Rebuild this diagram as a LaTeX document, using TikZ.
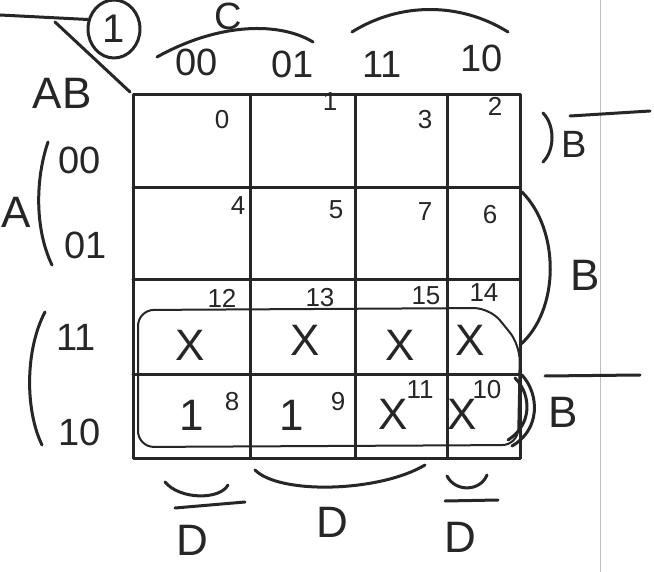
\documentclass[tikz,border=0pt]{standalone}
\usepackage{fontspec}
\setmainfont{Liberation Sans}
\usetikzlibrary{shapes.geometric}
\begin{document}
\begin{tikzpicture}[x=1pt,y=-1pt,
  pen/.style={line width=3pt,line cap=round,line join=round,black!85},
  thin pen/.style={line width=2pt,line cap=round,black!85},
  big/.style={font=\fontsize{44}{46}\selectfont,text=black!85,inner sep=0pt},
  mid/.style={font=\fontsize{38}{40}\selectfont,text=black!85,inner sep=0pt},
  small/.style={font=\fontsize{26}{28}\selectfont,text=black!85,inner sep=0pt}]
\useasboundingbox (0,0) rectangle (654,572);
\fill[white] (0,0) rectangle (654,572);
% notebook margin line
\draw[black!25,line width=0.8pt] (600,0) -- (600,572);
% grid
\draw[pen] (133,95) rectangle (520,458);
\foreach \x in {250,355,447} \draw[pen] (\x,95) -- (\x,458);
\foreach \y in {188,280,375} \draw[pen] (133,\y) -- (520,\y);
% corner diagonal and AB
\coordinate (dg1) at (55,22);
\coordinate (dg2) at (130,92);
\draw[pen] (dg1) -- (dg2);
\node[big] (ab) at (62,93) {AB};
\node[draw,pen,ellipse,minimum width=52pt,minimum height=58pt,inner sep=0pt,font=\fontsize{40}{42}\selectfont] (one) at (114,29) {1};
\coordinate (l0) at (0,15);
\draw[pen] (l0) -- (one.160);
% column labels
\node[mid] (c00) at (197,62) {00};
\node[mid] (c01) at (293,64) {01};
\node[mid] (c11) at (382,64) {11};
\node[mid] (c10) at (482,58) {10};
\draw[pen] (157,57) .. controls (220,22) and (280,22) .. (313,42);
\draw[pen] (352,32) .. controls (400,2) and (460,2) .. (508,32);
\node[mid] (cC) at (228,16) {C};
% row labels
\node[mid] (r00) at (80,160) {00};
\node[mid] (r01) at (86,245) {01};
\node[mid] (r11) at (76,337) {11};
\node[mid] (r10) at (80,432) {10};
\draw[pen] (48,142) .. controls (35,180) and (35,230) .. (52,265);
\node[big] (rA) at (16,212) {A};
\draw[pen] (45,312) .. controls (25,350) and (25,410) .. (42,445);
% cell numbers
\node[small] (n0) at (222,120) {0};
\node[small] (n1) at (330,102) {1};
\node[small] (n3) at (425,120) {3};
\node[small] (n2) at (495,106) {2};
\node[small] (n4) at (238,206) {4};
\node[small] (n5) at (336,210) {5};
\node[small] (n7) at (425,212) {7};
\node[small] (n6) at (490,215) {6};
\node[small] (n12) at (222,298) {12};
\node[small] (n13) at (320,298) {13};
\node[small] (n15) at (426,296) {15};
\node[small] (n14) at (484,293) {14};
\node[small] (n8) at (232,402) {8};
\node[small] (n9) at (338,402) {9};
\node[small] (n11) at (420,390) {11};
\node[small] (n10) at (487,390) {10};
% cell values
\node[big] (v12) at (190,345) {X};
\node[big] (v13) at (305,340) {X};
\node[big] (v15) at (400,345) {X};
\node[big] (v14) at (470,340) {X};
\node[big] (v8) at (192,415) {1};
\node[big] (v9) at (292,415) {1};
\node[big] (v11) at (393,414) {X};
\node[big] (v10) at (462,414) {X};
% group loop
\draw[thin pen,rounded corners=16pt] (138,310) -- (490,308) -- (520,345) -- (518,445) -- (138,447) -- cycle;
% right side brackets
\draw[pen] (543,113) .. controls (555,125) and (555,150) .. (543,162);
\node[mid] (rb1) at (574,144) {B};
\draw[pen] (570,116) -- (650,111);
\draw[pen] (522,192) .. controls (560,230) and (560,310) .. (520,345);
\node[big] (rB) at (585,275) {B};
\draw[pen] (515,378) .. controls (532,395) and (532,425) .. (508,440);
\draw[pen] (522,375) .. controls (540,395) and (540,430) .. (512,446);
\node[big] (rb2) at (563,412) {B};
\draw[pen] (545,376) -- (640,375);
% bottom brackets
\draw[pen] (165,482) .. controls (180,500) and (220,500) .. (228,485);
\draw[pen] (175,508) -- (245,502);
\node[big] (d1) at (192,540) {D};
\draw[pen] (255,470) .. controls (280,495) and (380,492) .. (425,465);
\node[big] (d2) at (332,522) {D};
\draw[pen] (447,476) .. controls (455,492) and (480,492) .. (487,475);
\draw[pen] (445,501) -- (498,500);
\node[big] (d3) at (460,537) {D};
\end{tikzpicture}
\end{document}
